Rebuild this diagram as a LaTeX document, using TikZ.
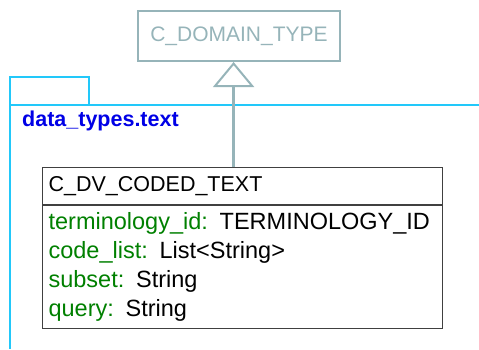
\documentclass[tikz,border=0pt]{standalone}
\usepackage{fontspec}
\setmainfont{Liberation Sans}
\usepackage{tikz}
\usetikzlibrary{positioning,arrows.meta,calc}
\usepackage{xcolor}
\definecolor{basecolor}{RGB}{150, 180, 185}
\definecolor{pkgcolor}{RGB}{34, 200, 250}
\definecolor{pkgtext}{RGB}{0, 0, 230}
\definecolor{attrcolor}{RGB}{0, 128, 0}

\newcommand{\attr}[2]{\textcolor{attrcolor}{#1:} #2}

\begin{document}
\begin{tikzpicture}[
    x=1pt, y=-1pt,
    base/.style={rectangle, draw=basecolor, line width=2pt, text=basecolor, minimum width=202pt, minimum height=50pt, inner sep=0pt, font=\fontsize{21}{24}\selectfont},
    pkgline/.style={draw=pkgcolor, line width=2pt},
    classhead/.style={rectangle, draw=black!75, line width=1.2pt, minimum width=400pt, minimum height=37pt, inner sep=0pt, anchor=north west, font=\fontsize{21.5}{24}\selectfont},
    classbody/.style={rectangle, draw=black!75, line width=1.2pt, minimum width=400pt, minimum height=123pt, inner xsep=6pt, inner ysep=0pt, align=left, text width=388pt, font=\fontsize{23.5}{29}\selectfont},
    inherit/.style={draw=basecolor, line width=3pt, -{Triangle[open, length=25pt, width=41pt, line width=2pt]}},
]
    \useasboundingbox (0,0) rectangle (479,349);

    % Parent class
    \node[base] (domain) at (239,36) {C\_DOMAIN\_TYPE};

    % Package frame
    \coordinate (tabtop) at (10,77);
    \coordinate (tabend) at (89,105);
    \coordinate (pkgright) at (479,105);
    \coordinate (pkgbottom) at (10,349);
    \draw[pkgline] (tabtop) rectangle (tabend);
    \draw[pkgline] (pkgright) -- (tabtop |- pkgright) -- (pkgbottom);
    \node[anchor=west, inner sep=0pt, text=pkgtext, font=\fontsize{21.5}{24}\selectfont\bfseries] (pkglabel) at (22,121) {data\_types.text};

    % Class
    \node[classhead, text width=388pt, inner xsep=6pt, align=left] (head) at (42,167) {C\_DV\_CODED\_TEXT};
    \node[classbody, below=0pt of head] (body) {%
        \attr{terminology\_id}{TERMINOLOGY\_ID}\\
        \attr{code\_list}{List<String>}\\
        \attr{subset}{String}\\
        \attr{query}{String}};

    % Inheritance
    \draw[inherit] ([xshift=-9pt]head.north) -- ([xshift=-9pt]head.north |- domain.south);
\end{tikzpicture}
\end{document}
